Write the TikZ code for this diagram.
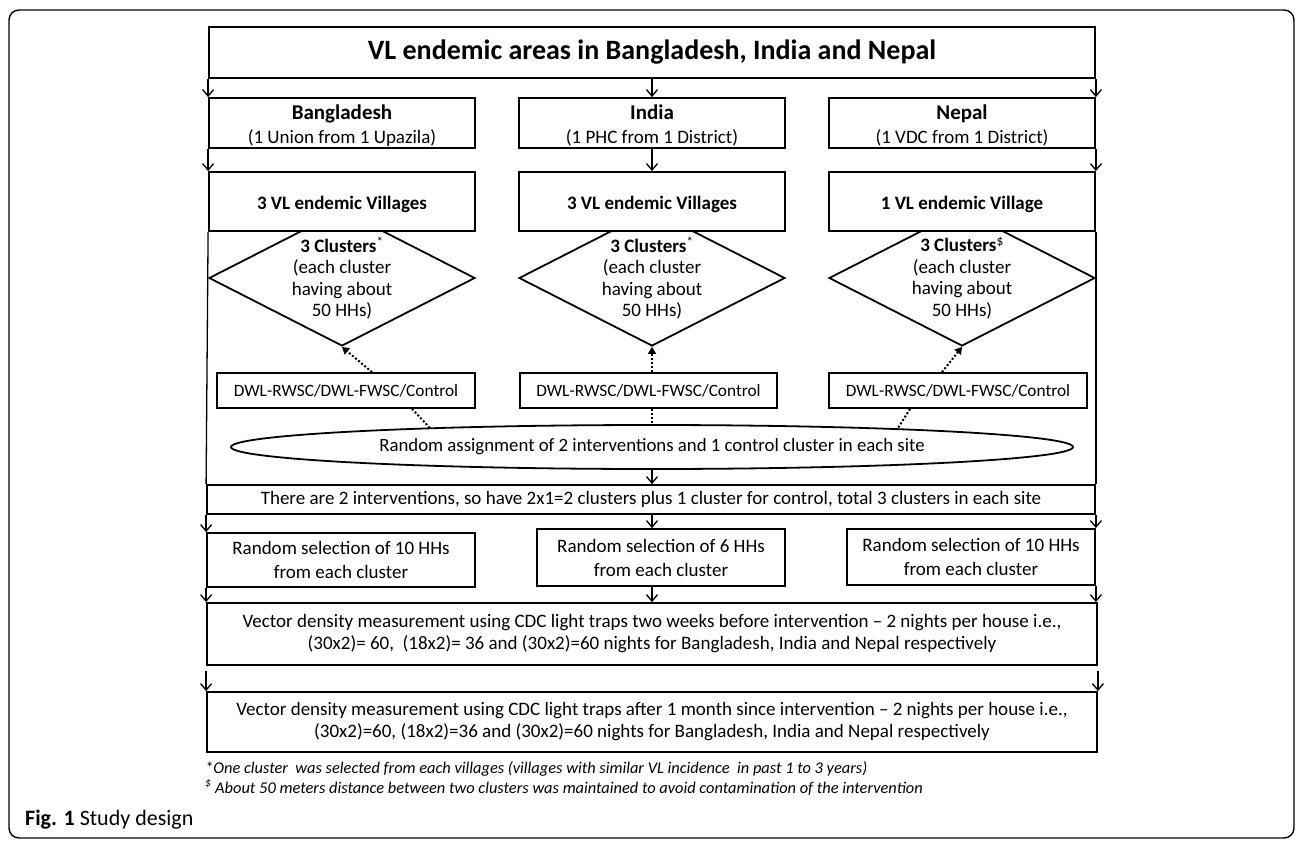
\documentclass[tikz,border=0pt]{standalone}
\usepackage{fontspec}
\setmainfont{Carlito}
\usetikzlibrary{shapes.geometric,arrows.meta}
\begin{document}
\begin{tikzpicture}[x=1pt,y=-1pt,
  box/.style={draw, line width=1.8pt, fill=white, inner sep=2pt, align=center, font=\fontsize{19}{24}\selectfont},
  cname/.style={anchor=base, inner sep=0pt, font=\fontsize{21}{24}\selectfont\bfseries},
  cdet/.style={anchor=base, inner sep=0pt, font=\fontsize{19}{24}\selectfont},
  vil/.style={box, minimum width=266pt, minimum height=59pt, text height=19pt, text depth=4pt, font=\fontsize{19}{24}\selectfont\bfseries},
  dia/.style={diamond, draw, line width=1.8pt, inner sep=0pt, minimum width=266pt, minimum height=136pt},
  dtext/.style={align=center, inner sep=0pt, font=\fontsize{19}{21.5}\selectfont},
  arr/.style={line width=1.3pt, -{Straight Barb[length=6.5pt,width=11pt,line width=1.3pt]}},
  dotarr/.style={line width=2pt, dash pattern=on 2pt off 2pt, -{Triangle[length=7pt,width=8pt]}},
  dotln/.style={line width=2pt, dash pattern=on 2pt off 2pt},
  ln/.style={line width=1.3pt},
  note/.style={inner sep=0pt, anchor=base west, font=\fontsize{16.4}{19}\selectfont\itshape}]
\useasboundingbox (0,0) rectangle (1296,841);
\draw[line width=1.4pt, rounded corners=10pt] (9,10) rectangle (1294,838);

% title and countries
\node[box, minimum width=886pt, minimum height=51pt, font=\fontsize{28}{32}\selectfont\bfseries] (title) at (652,52.5) {VL endemic areas in Bangladesh, India and Nepal};
\node[box, minimum width=266pt, minimum height=50pt] (bd) at (342,123) {};
\node[box, minimum width=266pt, minimum height=50pt] (in) at (652,123) {};
\node[box, minimum width=266pt, minimum height=50pt] (np) at (962,123) {};
\node[cname] (bdn) at (342,119) {Bangladesh};
\node[cname] (inn) at (652,119) {India};
\node[cname] (npn) at (962,119) {Nepal};
\node[cdet] (bdd) at (342,143) {(1 Union from 1 Upazila)};
\node[cdet] (ind) at (652,143) {(1 PHC from 1 District)};
\node[cdet] (npd) at (962,143) {(1 VDC from 1 District)};

% diamonds (drawn before village boxes)
\node[dia] (dbd) at (342,278) {};
\node[dia] (din) at (652,278) {};
\node[dia] (dnp) at (962,278) {};
\node[dtext] (tbd) at (342,278) {\textbf{3 Clusters}\textsuperscript{*}\\(each cluster\\having about\\50 HHs)};
\node[dtext] (tin) at (652,278) {\textbf{3 Clusters}\textsuperscript{*}\\(each cluster\\having about\\50 HHs)};
\node[dtext] (tnp) at (962,278) {\textbf{3 Clusters}\textsuperscript{\$}\\(each cluster\\having about\\50 HHs)};

% villages
\node[vil] (bdv) at (342,201.5) {3 VL endemic Villages};
\node[vil] (inv) at (652,201.5) {3 VL endemic Villages};
\node[vil] (npv) at (962,201.5) {1 VL endemic Village};

% interventions
\node[box, minimum width=258pt, minimum height=35pt, font=\fontsize{17.3}{21}\selectfont] (wbd) at (346,390.5) {DWL-RWSC/DWL-FWSC/Control};
\node[box, minimum width=257pt, minimum height=35pt, font=\fontsize{17.3}{21}\selectfont] (win) at (648.5,390.5) {DWL-RWSC/DWL-FWSC/Control};
\node[box, minimum width=258pt, minimum height=35pt, font=\fontsize{17.3}{21}\selectfont] (wnp) at (958,390.5) {DWL-RWSC/DWL-FWSC/Control};

\node[ellipse, draw, line width=1.8pt, minimum width=842pt, minimum height=44pt, inner sep=0pt, font=\fontsize{18.8}{23}\selectfont] (ell) at (652,447) {Random assignment of 2 interventions and 1 control cluster in each site};

\node[box, minimum width=888pt, minimum height=29pt] (there) at (651,499.5) {There are 2 interventions, so have 2x1=2 clusters plus 1 cluster for control, total 3 clusters in each site};

\node[box, minimum width=268pt, minimum height=54pt] (rbd) at (341,560) {Random selection of 10 HHs\\from each cluster};
\node[box, minimum width=248pt, minimum height=57pt] (rin) at (661,557.5) {Random selection of 6 HHs\\from each cluster};
\node[box, minimum width=248pt, minimum height=56pt] (rnp) at (971,557) {Random selection of 10 HHs\\from each cluster};

\node[box, minimum width=890pt, minimum height=62pt, font=\fontsize{19}{22}\selectfont] (va) at (652,634) {Vector density measurement using CDC light traps two weeks before intervention -- 2 nights per house i.e.,\\(30x2)= 60,\ \ (18x2)= 36 and (30x2)=60 nights for Bangladesh, India and Nepal respectively};
\node[box, minimum width=890pt, minimum height=60pt, font=\fontsize{19}{22}\selectfont] (vb) at (652,722) {Vector density measurement using CDC light traps after 1 month since intervention -- 2 nights per house i.e.,\\(30x2)=60, (18x2)=36 and (30x2)=60 nights for Bangladesh, India and Nepal respectively};

\node[note] (n1) at (205,773) {*One cluster\ \ was selected from each villages (villages with similar VL incidence\ \ in past 1 to 3 years)};
\node[note] (n2) at (205,793) {\textsuperscript{\$} About 50 meters distance between two clusters was maintained to avoid contamination of the intervention};
\node[inner sep=0pt, anchor=base west, font=\fontsize{22}{26}\selectfont] (fig) at (25,825) {\textbf{Fig. 1} Study design};

% connectors
\draw[arr] (title.south west) -- (bd.north west);
\draw[arr] (title.south) -- (in.north);
\draw[arr] (title.south east) -- (np.north east);
\draw[arr] (bd.south west) -- (bdv.north west);
\draw[arr] (in.south) -- (inv.north);
\draw[arr] (np.south east) -- (npv.north east);
\draw[ln] (bdv.south west) -- (there.north west);
\draw[ln] (npv.south east) -- (there.north east);

\draw[dotarr] ([xshift=26pt]wbd.north) -- (dbd.south);
\draw[dotarr] ([xshift=3.5pt]win.north) -- (din.south);
\draw[dotarr] ([xshift=-16pt]wnp.north) -- (dnp.south);
\coordinate (e1) at (430,428);
\coordinate (e3) at (898,428);
\draw[dotln] ([xshift=66pt]wbd.south) -- (e1);
\draw[dotln] ([xshift=3.5pt]win.south) -- (ell.north);
\draw[dotln] ([xshift=-48pt]wnp.south) -- (e3);

\draw[arr] (ell.south) -- (ell.south |- there.north);
\draw[arr] (there.south west) -- (rbd.north west);
\draw[arr] (ell.south |- there.south) -- (ell.south |- rin.north);
\draw[arr] (there.south east) -- (rnp.north east);
\draw[arr] (rbd.south west) -- (va.north west);
\draw[arr] (ell.south |- rin.south) -- (ell.south |- va.north);
\draw[arr] (rnp.south east) -- (rnp.south east |- va.north);
\draw[arr] ([yshift=-5pt]va.south west) -- (vb.north west);
\draw[arr] ([yshift=-5pt]va.south east) -- (vb.north east);
\end{tikzpicture}
\end{document}
